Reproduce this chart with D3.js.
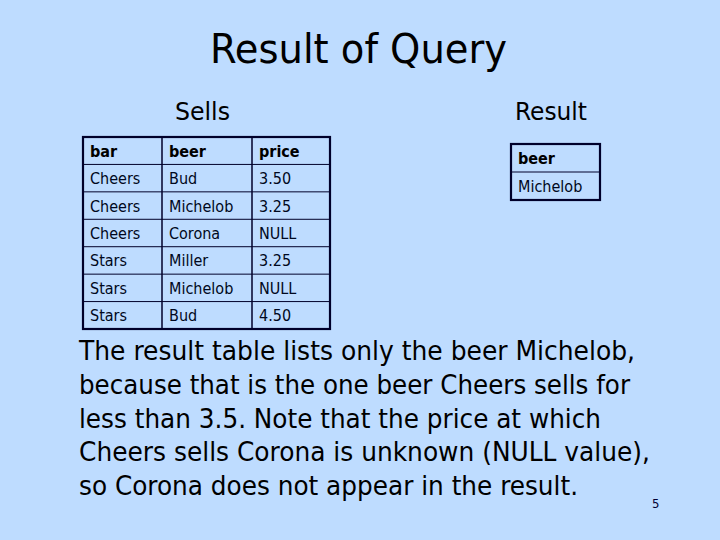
<!DOCTYPE html>
<html><head><meta charset="utf-8">
<script src="https://cdn.jsdelivr.net/npm/d3@7"></script>
<style>html,body{margin:0;padding:0;background:#BEDCFF;}svg{display:block;}</style>
</head><body>
<script>
const title = "Result of Query";
const sellsColumns = ["bar", "beer", "price"];
const sellsBars = ["Cheers", "Cheers", "Cheers", "Stars", "Stars", "Stars"];
const sellsBeers = ["Bud", "Michelob", "Corona", "Miller", "Michelob", "Bud"];
const sellsPrices = ["3.50", "3.25", "NULL", "3.25", "NULL", "4.50"];
const resultColumns = ["beer"];
const resultBeers = ["Michelob"];
const bodyLines = [
  "The result table lists only the beer Michelob,",
  "because that is the one beer Cheers sells for",
  "less than 3.5. Note that the price at which",
  "Cheers sells Corona is unknown (NULL value),",
  "so Corona does not appear in the result."
];
const pageNumber = "5";

const W = 720, H = 540;
const FONT = "'DejaVu Sans Condensed','DejaVu Sans',sans-serif";
const ink = "#000";
const lineCol = "#00002a";

const svg = d3.select("body").append("svg").attr("width", W).attr("height", H);
svg.append("rect").attr("width", W).attr("height", H).attr("fill", "#BEDCFF");

function fitText(sel, w) {
  sel.each(function () {
    const len = this.getComputedTextLength();
    if (w) d3.select(this).attr("textLength", w).attr("lengthAdjust", "spacingAndGlyphs");
  });
}

// Title
svg.append("text").attr("x", 210).attr("y", 63).attr("font-family", FONT)
  .attr("font-size", 41).attr("fill", ink).text(title).call(fitText, 297);

// Subtitles
svg.append("text").attr("x", 175).attr("y", 120).attr("font-family", FONT)
  .attr("font-size", 25).attr("fill", ink).text("Sells").call(fitText, 55);
svg.append("text").attr("x", 515).attr("y", 120).attr("font-family", FONT)
  .attr("font-size", 25).attr("fill", ink).text("Result").call(fitText, 72);

function drawTable(x0, edges, y0, y1, header, rows, opts) {
  const g = svg.append("g");
  const nRows = rows.length + 1;
  const y = d3.scaleBand().domain(d3.range(nRows)).range([y0, y1]);
  const x = d3.scaleOrdinal().domain(d3.range(edges.length)).range(edges);
  // horizontal inner lines
  g.selectAll("line.h").data(d3.range(1, nRows)).join("line")
    .attr("x1", edges[0]).attr("x2", edges[edges.length - 1])
    .attr("y1", d => y(d)).attr("y2", d => y(d))
    .attr("stroke", lineCol).attr("stroke-width", 1);
  g.selectAll("line.v").data(d3.range(1, edges.length - 1)).join("line")
    .attr("x1", d => x(d)).attr("x2", d => x(d))
    .attr("y1", y0).attr("y2", y1)
    .attr("stroke", lineCol).attr("stroke-width", 1.5);
  g.append("rect").attr("x", edges[0]).attr("y", y0)
    .attr("width", edges[edges.length - 1] - edges[0]).attr("height", y1 - y0)
    .attr("fill", "none").attr("stroke", lineCol).attr("stroke-width", 2.2);
  const all = [header].concat(rows);
  all.forEach((row, r) => {
    row.forEach((cell, c) => {
      g.append("text").attr("x", x(c) + 7).attr("y", y(r) + y.bandwidth() / 2 + 6)
        .attr("font-family", FONT).attr("font-size", 16)
        .attr("font-weight", r === 0 ? "bold" : "normal")
        .attr("fill", r === 0 ? ink : "#000820").text(cell);
    });
  });
}

const sellsRows = sellsBars.map((b, i) => [b, sellsBeers[i], sellsPrices[i]]);
drawTable(83, [83, 162, 252, 330], 137, 329, sellsColumns, sellsRows);
drawTable(511, [511, 600], 144, 200, resultColumns, resultBeers.map(b => [b]));

// Body text
const lineW = [556, 551, 522, 571, 499];
svg.selectAll("text.body").data(bodyLines).join("text").attr("class", "body")
  .attr("x", 79).attr("y", (d, i) => 360 + i * 33.8)
  .attr("font-family", FONT).attr("font-size", 26).attr("fill", ink)
  .text(d => d)
  .each(function (d, i) { d3.select(this).attr("textLength", lineW[i]).attr("lengthAdjust", "spacingAndGlyphs"); });

svg.append("text").attr("x", 652).attr("y", 508).attr("font-family", FONT)
  .attr("font-size", 13).attr("fill", "#000033").text(pageNumber);
</script>
</body></html>
